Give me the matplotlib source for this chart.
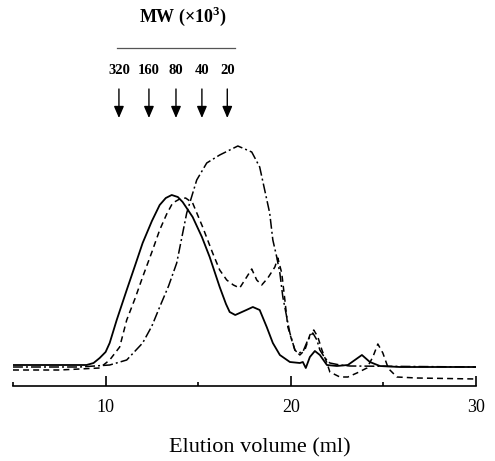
import matplotlib
matplotlib.use("Agg")
import matplotlib.pyplot as plt

# Elution volume (ml) and absorbance (arbitrary units) for the three traces
vol_solid = [5.0, 6.97, 8.97, 9.35, 9.68, 10.0, 10.22, 10.6, 11.14, 11.6, 12.0, 12.5, 12.92, 13.25, 13.57,
             13.9, 14.16, 14.7, 15.2, 15.62, 16.16, 16.5, 16.7, 17.0, 17.24, 17.6, 17.95, 18.32,
             18.7, 19.03, 19.41, 19.95, 20.49, 20.65, 20.81, 21.03, 21.3, 21.57, 21.95, 22.49,
             23.08, 23.46, 23.84, 24.27, 24.81, 25.89, 30.0]
abs_solid = [2.1, 2.1, 2.1, 2.3, 2.8, 3.4, 4.3, 6.6, 9.6, 12.1, 14.3, 16.5, 18.1, 18.8, 19.1,
             18.9, 18.4, 16.9, 14.9, 12.9, 9.9, 8.2, 7.4, 7.1, 7.3, 7.6, 7.9, 7.6,
             5.9, 4.3, 3.1, 2.4, 2.3, 2.4, 1.8, 2.9, 3.5, 3.1, 2.1, 2.0,
             2.1, 2.6, 3.1, 2.4, 2.0, 1.9, 1.9]

vol_dashed = [5.0, 7.51, 9.68, 10.22, 10.76, 11.14, 11.6, 12.0, 12.5, 12.92, 13.3, 13.62, 14.0,
              14.32, 14.7, 15.24, 15.78, 16.16, 16.54, 16.9, 17.24, 17.62, 17.89, 18.16, 18.43,
              18.76, 19.14, 19.3, 19.51, 19.68, 19.84, 20.05, 20.22, 20.49, 20.76, 21.03, 21.24,
              21.46, 21.68, 21.95, 22.11, 22.65, 23.08, 23.57, 24.11, 24.43, 24.7, 24.97, 25.24,
              25.35, 25.73, 26.81, 30.0]
abs_dashed = [1.6, 1.6, 1.8, 2.6, 3.9, 6.6, 8.8, 10.9, 13.4, 15.6, 17.2, 18.3, 18.7,
              18.8, 18.3, 15.9, 13.3, 11.6, 10.6, 10.1, 9.8, 10.9, 11.7, 10.6, 10.1,
              10.8, 11.9, 12.8, 11.3, 8.6, 5.9, 4.6, 3.6, 3.1, 3.6, 5.1, 5.6,
              4.9, 3.6, 2.3, 1.4, 0.9, 0.9, 1.3, 1.8, 2.9, 4.2, 3.3, 1.9,
              1.6, 0.9, 0.8, 0.7]

vol_dashdot = [5.0, 8.59, 10.22, 11.14, 12.0, 12.5, 12.92, 13.4, 13.84, 14.38, 14.92, 15.46,
               16.16, 17.14, 17.89, 18.32, 18.86, 19.03, 19.24, 19.41, 19.57, 19.78, 19.95,
               20.22, 20.38, 20.65, 20.92, 21.19, 21.41, 21.57, 21.84, 22.11, 22.65, 23.19, 30.0]
abs_dashdot = [1.9, 1.9, 2.1, 2.6, 4.3, 6.0, 7.9, 10.0, 12.3, 17.3, 20.6, 22.3,
               23.1, 24.0, 23.4, 21.9, 17.3, 14.6, 12.9, 11.3, 8.9, 6.9, 5.3,
               3.6, 3.3, 3.4, 4.6, 5.3, 4.6, 3.6, 2.8, 2.3, 2.1, 2.0, 1.9]

# Molecular-weight markers (x10^3) and their elution positions (ml)
mw_labels = ["320", "160", "80", "40", "20"]
mw_volumes = [10.72, 12.34, 13.8, 15.2, 16.57]

plt.rcParams['font.family'] = ['Liberation Serif', 'DejaVu Serif']
plt.rcParams['mathtext.fontset'] = 'custom'
plt.rcParams['mathtext.rm'] = 'Liberation Serif'
plt.rcParams['mathtext.bf'] = 'Liberation Serif:bold'

fig = plt.figure(figsize=(4.95, 4.61), dpi=100)
ax = fig.add_axes([13 / 495, (461 - 386) / 461, 463 / 495, 386 / 461])
ax.set_xlim(5, 30)
ax.set_ylim(0, 38.6)

ax.plot(vol_solid, abs_solid, color='black', lw=1.3, linestyle='-')
ax.plot(vol_dashed, abs_dashed, color='black', lw=1.1, linestyle=(0, (3.9, 2.7)))
ax.plot(vol_dashdot, abs_dashdot, color='black', lw=1.1, linestyle=(0, (6.5, 2.0, 1.3, 2.0)))

for s in ['left', 'right', 'top']:
    ax.spines[s].set_visible(False)
ax.spines['bottom'].set_linewidth(1.2)
ax.set_yticks([])
ax.set_xticks([10, 20, 30])
ax.set_xticks([5, 15, 25], minor=True)
ax.tick_params(axis='x', which='major', direction='in', length=7.2, width=1.2,
               labelsize=13, pad=9)
ax.tick_params(axis='x', which='minor', direction='in', length=3, width=1.2)
ax.set_xlabel("Elution volume (ml)", fontsize=16)
ax.xaxis.set_label_coords(0.532, -0.135)

# MW annotation
ax.text(14.16, 37.0, r"MW (×10$^{\mathbf{3}}$)", ha='center', va='center',
        fontsize=13, fontweight='bold')
ax.plot([10.59, 16.97], [33.8, 33.8], color='#555555', lw=0.9, clip_on=False)
for lab, v in zip(mw_labels, mw_volumes):
    ax.text(v, 31.6, lab, ha='center', va='center', fontsize=10.5, fontweight='bold')
    ax.annotate('', xy=(v, 26.8), xytext=(v, 29.7),
                arrowprops=dict(arrowstyle='-|>,head_length=0.7,head_width=0.3',
                                color='black', lw=1.0, shrinkA=0, shrinkB=0))

fig.savefig("out.png", dpi=100)
